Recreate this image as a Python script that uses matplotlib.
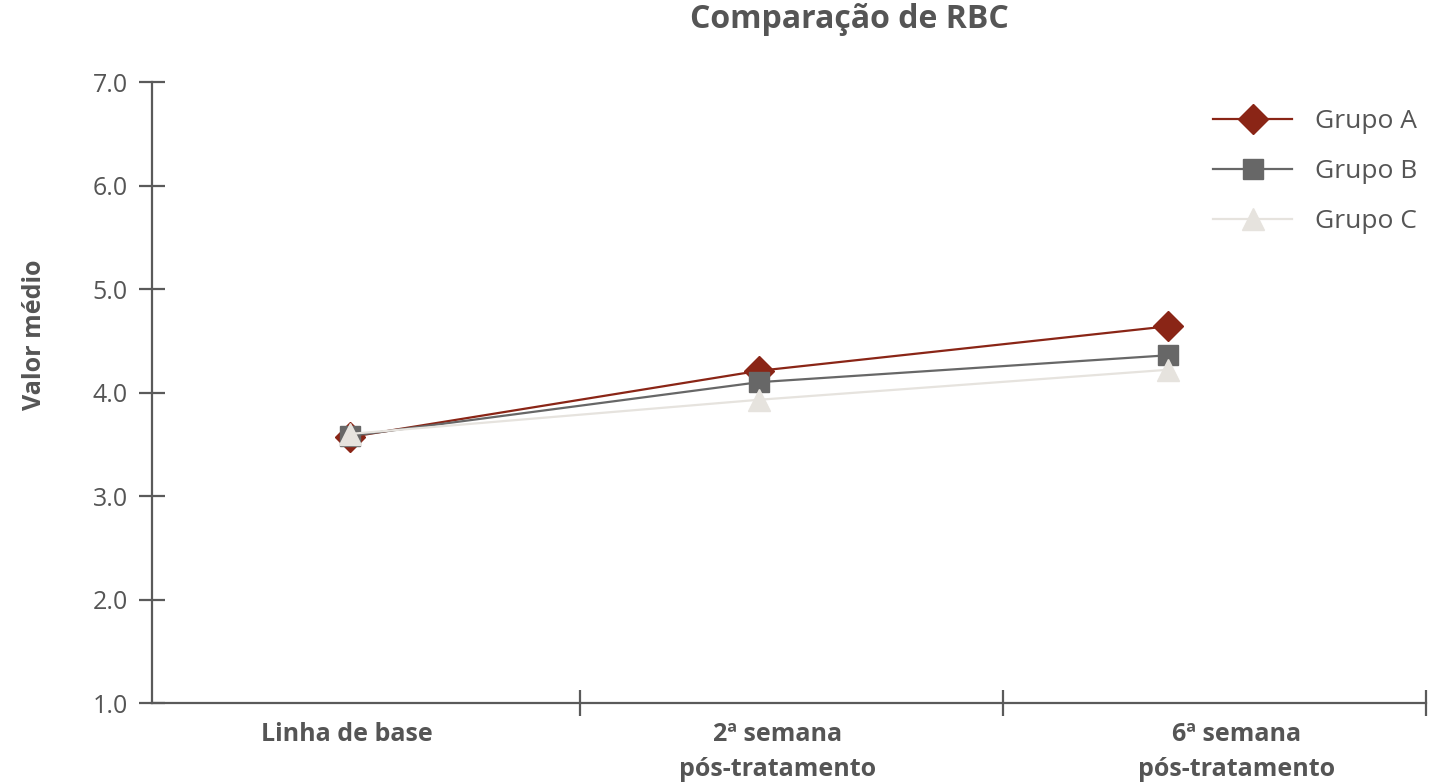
import matplotlib.pyplot as plt
from matplotlib.ticker import FixedLocator

# dados
categorias = ["Linha de base", "2ª semana\npós-tratamento", "6ª semana\npós-tratamento"]
grupos = ["Grupo A", "Grupo B", "Grupo C"]
grupo_a = [3.57, 4.21, 4.64]
grupo_b = [3.58, 4.10, 4.36]
grupo_c = [3.60, 3.93, 4.22]
y_ticks = [1.0, 2.0, 3.0, 4.0, 5.0, 6.0, 7.0]

cores = ["#8a2516", "#676767", "#e6e3de"]
marcadores = ["D", "s", "^"]
tamanhos = [15, 15, 16]
cinza = "#555555"

plt.rcParams['font.family'] = ['Open Sans', 'DejaVu Sans']

fig = plt.figure(figsize=(14.42, 7.84), dpi=100)
ax = fig.add_axes([0.1054, 0.1033, 0.8835, 0.7921])

x = list(range(len(categorias)))
for vals, nome, cor, m, ms in zip([grupo_a, grupo_b, grupo_c], grupos, cores, marcadores, tamanhos):
    ax.plot(x, vals, color=cor, marker=m, markersize=ms, linewidth=1.6, label=nome)

ax.set_ylim(1.0, 7.0)
ax.set_xlim(-0.484, 2.63)

ax.set_yticks(y_ticks)
ax.set_yticklabels([f"{v:.1f}" for v in y_ticks])

# limites das categorias como marcas principais, rotulos como marcas menores
ax.xaxis.set_major_locator(FixedLocator([0.562, 1.597, 2.63]))
ax.xaxis.set_major_formatter(plt.NullFormatter())
ax.xaxis.set_minor_locator(FixedLocator([-0.007, 1.044, 2.166]))
ax.set_xticklabels(categorias, minor=True, fontsize=18, fontweight='bold',
                   color=cinza, linespacing=1.5)
ax.tick_params(axis='x', which='minor', length=0, pad=14)
ax.tick_params(axis='x', which='major', direction='inout', length=19, width=1.6,
               color="#5a5a5a")
ax.tick_params(axis='y', direction='inout', length=19, width=1.6, color="#5a5a5a",
               labelsize=18, labelcolor=cinza, pad=8)

for lado in ['top', 'right']:
    ax.spines[lado].set_visible(False)
for lado in ['left', 'bottom']:
    ax.spines[lado].set_color("#5a5a5a")
    ax.spines[lado].set_linewidth(1.6)

fig.text(0.024, 0.573, "Valor médio", rotation=90, ha='center', va='center',
         fontsize=18, fontweight='bold', color=cinza)
fig.text(0.589, 0.975, "Comparação de RBC", ha='center', va='center',
         fontsize=23, fontweight='bold', color=cinza)

leg = ax.legend(loc='upper left', bbox_to_anchor=(0.834, 0.874), bbox_transform=fig.transFigure,
                frameon=False, fontsize=19, handlelength=3.0, handletextpad=0.85,
                labelspacing=0.95, borderaxespad=0)
for t in leg.get_texts():
    t.set_color(cinza)

fig.savefig("out.png", dpi=100)
